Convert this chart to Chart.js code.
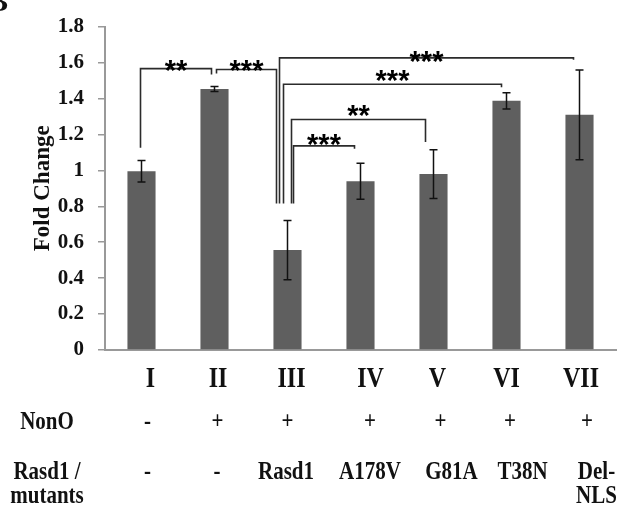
<!DOCTYPE html>
<html>
<head>
<meta charset="utf-8">
<script src="https://cdn.jsdelivr.net/npm/chart.js@4.4.1/dist/chart.umd.min.js"></script>
<style>
  html, body { margin: 0; padding: 0; background: #fff; }
</style>
</head>
<body>
<canvas id="foldChart" width="617" height="507"></canvas>
<script>
// Values
const groups = ['I', 'II', 'III', 'IV', 'V', 'VI', 'VII'];
const foldChange = [0.995, 1.453, 0.556, 0.939, 0.979, 1.387, 1.309];
const foldError = [0.06, 0.014, 0.165, 0.1, 0.136, 0.045, 0.25];
const nonoRow = ['-', '+', '+', '+', '+', '+', '+'];
const rasd1Row = [['-'], ['-'], ['Rasd1'], ['A178V'], ['G81A'], ['T38N'], ['Del-', 'NLS']];
const rowTitles = [['NonO'], ['Rasd1 /', 'mutants']];

// Significance brackets: pair of groups, stars, bar height and leg ends (fold change units)
const sigPairs = [[0, 1], [1, 2], [2, 6], [2, 5], [2, 4], [2, 3]];
const sigLabels = ['**', '***', '***', '***', '**', '***'];
const sigLevels = [1.566, 1.561, 1.626, 1.479, 1.283, 1.136];
const sigEnds = [[1.126, 1.533], [1.539, 0.816], [0.816, 1.615], [0.816, 1.463], [0.816, 1.158], [0.816, 1.12]];

const serif = '"Liberation Serif", "Times New Roman", serif';

// draw text stretched vertically like the original figure
function stretchedText(ctx, text, x, y, sy) {
    ctx.save();
    ctx.translate(x, y);
    ctx.scale(1, sy);
    ctx.fillText(text, 0, 0);
    ctx.restore();
}

const annotate = {
    id: 'annotate',
    afterDatasetsDraw(chart, args, opts) {
        const { ctx, scales: { x, y } } = chart;
        ctx.save();

        // error bars
        ctx.strokeStyle = '#111';
        ctx.lineWidth = 1.5;
        foldChange.forEach((v, i) => {
            const cx = x.getPixelForValue(i);
            const top = y.getPixelForValue(v + foldError[i]);
            const bot = y.getPixelForValue(v - foldError[i]);
            ctx.beginPath();
            ctx.moveTo(cx, top); ctx.lineTo(cx, bot);
            ctx.moveTo(cx - 4, top); ctx.lineTo(cx + 4, top);
            ctx.moveTo(cx - 4, bot); ctx.lineTo(cx + 4, bot);
            ctx.stroke();
        });

        // significance brackets
        ctx.strokeStyle = '#2b2b2b';
        ctx.lineWidth = 1.6;
        ctx.fillStyle = '#000';
        ctx.textAlign = 'center';
        ctx.textBaseline = 'alphabetic';
        ctx.font = 'bold 29px "Liberation Sans", Arial, sans-serif';
        sigPairs.forEach(([a, b], k) => {
            const xa = x.getPixelForValue(a) + opts.legShift[k][0];
            const xb = x.getPixelForValue(b) + opts.legShift[k][1];
            const yl = y.getPixelForValue(sigLevels[k]);
            ctx.beginPath();
            ctx.moveTo(xa, y.getPixelForValue(sigEnds[k][0]));
            ctx.lineTo(xa, yl);
            ctx.lineTo(xb, yl);
            ctx.lineTo(xb, y.getPixelForValue(sigEnds[k][1]));
            ctx.stroke();
            ctx.fillText(sigLabels[k], (xa + xb) / 2, yl - opts.starLift[k] + 17);
        });

        // table under the axis
        ctx.fillStyle = '#111';
        ctx.font = 'bold 24px ' + serif;
        groups.forEach((g, i) => {
            stretchedText(ctx, g, x.getPixelForValue(i) + opts.romanShift[i], 387, 1.26);
        });
        ctx.font = 'bold 21px ' + serif;
        nonoRow.forEach((s, i) => {
            stretchedText(ctx, s, x.getPixelForValue(i) + opts.nonoShift[i], 429, 1.22);
        });
        rasd1Row.forEach((lines, i) => {
            lines.forEach((s, j) => {
                stretchedText(ctx, s, x.getPixelForValue(i) + opts.rasd1Shift[i], 479 + j * 24, 1.22);
            });
        });
        rowTitles[0].forEach((s, j) => stretchedText(ctx, s, 47, 429 + j * 24, 1.22));
        rowTitles[1].forEach((s, j) => stretchedText(ctx, s, 47, 479 + j * 24, 1.22));

        // clipped panel letter in the corner
        ctx.textAlign = 'right';
        ctx.font = 'bold 30px ' + serif;
        ctx.fillText('B', 8, 11);

        ctx.restore();
    }
};

const ctx = document.getElementById('foldChart').getContext('2d');
const foldChart = new Chart(ctx, {
    type: 'bar',
    data: {
        labels: groups,
        datasets: [{
            data: foldChange,
            backgroundColor: '#5f5f5f',
            borderWidth: 0,
            barPercentage: 0.385,
            categoryPercentage: 1
        }]
    },
    options: {
        responsive: false,
        animation: false,
        layout: { padding: { top: 18, right: 1, left: 0, bottom: 0 } },
        plugins: {
            legend: { display: false },
            tooltip: { enabled: false },
            annotate: {
                legShift: [[-1, -3], [2, -11], [-8, -6], [-4, -5], [4, -8], [6, -6]],
                starLift: [6, 7, 4, 11, 11, 9],
                romanShift: [9, 3.5, 4, 10, 4, 0, 1.5],
                nonoShift: [6, 3, 0, 9.5, 7, 3.5, 7.5],
                rasd1Shift: [6, 2.5, -1.5, 9.5, 18, 16, 17]
            }
        },
        scales: {
            x: {
                ticks: { display: false },
                grid: { display: false },
                border: { display: true, color: '#999', width: 2 },
                afterFit: (scale) => { scale.height = 157; }
            },
            y: {
                min: 0,
                max: 1.8,
                ticks: {
                    stepSize: 0.2,
                    padding: 14,
                    color: '#111',
                    font: { family: serif, size: 21, weight: 'bold' },
                    callback: (v) => String(Math.round(v * 10) / 10)
                },
                grid: { drawOnChartArea: false, drawTicks: true, tickLength: 7, color: '#999', lineWidth: 1.5 },
                border: { display: true, color: '#999', width: 2 },
                title: {
                    display: true,
                    text: 'Fold Change',
                    color: '#111',
                    padding: { top: 29 },
                    font: { family: serif, size: 23, weight: 'bold' }
                },
                afterFit: (scale) => { scale.width = 105; }
            }
        }
    },
    plugins: [annotate]
});
</script>
</body>
</html>
